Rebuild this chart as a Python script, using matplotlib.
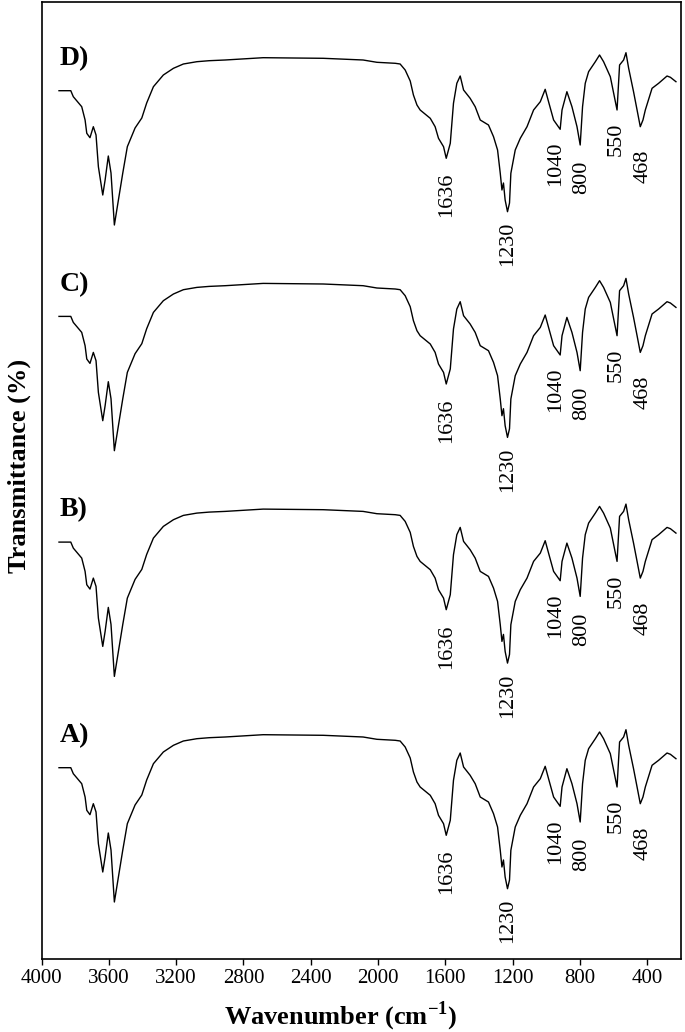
import matplotlib
matplotlib.use('Agg')
import matplotlib.pyplot as plt
import numpy as np

plt.rcParams['font.family'] = ['Liberation Serif', 'DejaVu Serif']
plt.rcParams['mathtext.fontset'] = 'custom'
plt.rcParams['mathtext.rm'] = 'Liberation Serif'
plt.rcParams['mathtext.bf'] = 'Liberation Serif:bold'

# wavenumber (cm-1) and relative transmittance (same shape for all samples)
wavenumber = [3896, 3826, 3811, 3761, 3741, 3731, 3712, 3692, 3676, 3662,
              3636, 3622, 3603, 3587, 3567, 3543, 3517, 3490, 3444, 3404,
              3375, 3335, 3276, 3216, 3157, 3077, 3004, 2909, 2683, 2326,
              2089, 2007, 1898, 1869, 1839, 1809, 1790, 1769, 1750, 1690,
              1661, 1641, 1611, 1595, 1571, 1552, 1532, 1512, 1492, 1453,
              1423, 1393, 1344, 1314, 1290, 1274, 1264, 1255, 1245, 1231,
              1219, 1211, 1185, 1155, 1115, 1076, 1036, 1007, 987, 957,
              918, 907, 878, 848, 818, 799, 785, 769, 749, 709,
              684, 660, 620, 580, 565, 541, 527, 511, 482, 461,
              442, 426, 412, 372, 333, 283, 263, 230]
transmittance = [-30.7, -30.7, -36.7, -46.7, -60, -73.3, -77.7, -66.7, -75, -106.7,
                 -135, -120, -96, -113, -165, -140, -113, -86.7, -68, -58,
                 -43, -26.7, -15, -8.3, -4, -1.7, -0.7, 0, 2.3, 1.7,
                 0, -2.3, -3.3, -4, -10, -21, -35, -45, -50, -58.3,
                 -66.7, -78.3, -86.7, -98.3, -83.3, -43.3, -23.3, -16, -30, -38.3,
                 -46.7, -60, -65, -76.7, -90, -113.3, -130, -123, -140, -151.7,
                 -143, -113.3, -90, -78.3, -66.7, -50, -41.7, -29.3, -41.7, -60,
                 -69.3, -50, -31.7, -46.7, -66.7, -85, -46.7, -23.3, -11.7, -1.7,
                 5, -1.7, -16.7, -50, -5, 0, 7.3, -8.3, -31.7, -50,
                 -66.7, -60, -50, -28.3, -23.3, -16, -17.3, -21.7]

samples = ['A)', 'B)', 'C)', 'D)']
offsets = [222, 447.6, 673.3, 899]

peak_labels = ['1636', '1230', '1040', '800', '550', '468']
# placement of peak labels (x in cm-1, top of text relative to baseline)
peak_pos = [(1595, -113), (1228, -162), (947, -82), (788, -101), (585, -63), (424, -90)]

fig = plt.figure(figsize=(6.85, 10.32), dpi=100)
ax = fig.add_axes([41.5 / 685, 1 - 959 / 1032, (681 - 41.5) / 685, 957 / 1032])

wn = np.array(wavenumber)
tr = np.array(transmittance)
for name, off in zip(samples, offsets):
    ax.plot(wn, tr + off, color='black', lw=1.0)
    ax.text(3890, off + 14, name, fontsize=20, fontweight='bold', ha='left', va='top')
    for lab, (px, py) in zip(peak_labels, peak_pos):
        ax.text(px, off + py, lab, rotation=90, fontsize=16, ha='center', va='top')

ax.set_xlim(4000, 200)
ax.set_ylim(0, 957)
ax.set_xticks(np.arange(4000, 300, -400))
ax.set_yticks([])
ax.tick_params(axis='x', direction='out', length=4, width=1, labelsize=15, pad=3)
for s in ax.spines.values():
    s.set_linewidth(1.2)

ax.set_xlabel(r'Wavenumber (cm$^{\mathbf{-1}}$)', fontsize=19, fontweight='bold')
ax.xaxis.set_label_coords((341 - 41.5) / 639.5, -(1000 - 959) / 957)
ax.set_ylabel('Transmittance (%)', fontsize=19, fontweight='bold')
ax.yaxis.set_label_coords(-(41.5 - 31) / 639.5, (959 - 466) / 957)

fig.savefig('out.png', dpi=100)
